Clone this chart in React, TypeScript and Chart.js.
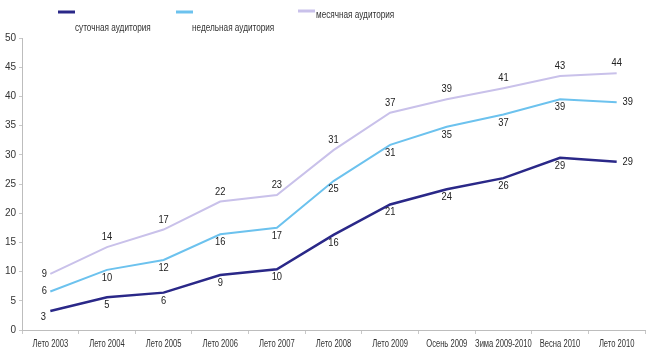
import React, { useEffect, useRef } from "react";
import { Chart, registerables } from "chart.js";

Chart.register(...registerables);

const categories = [
  "Лето 2003", "Лето 2004", "Лето 2005", "Лето 2006", "Лето 2007", "Лето 2008",
  "Лето 2009", "Осень 2009", "Зима 2009-2010", "Весна 2010", "Лето 2010",
];
const dailyValues = [3.25, 5.6, 6.4, 9.4, 10.4, 16.3, 21.5, 24.1, 26.0, 29.5, 28.8];
const weeklyValues = [6.6, 10.3, 12.0, 16.4, 17.5, 25.5, 31.7, 34.8, 36.9, 39.5, 39.0];
const monthlyValues = [9.6, 14.2, 17.2, 22.0, 23.1, 30.8, 37.2, 39.5, 41.4, 43.5, 43.95];
const dailyLabels = [3, 5, 6, 9, 10, 16, 21, 24, 26, 29, 29];
const weeklyLabels = [6, 10, 12, 16, 17, 25, 31, 35, 37, 39, 39];
const monthlyLabels = [9, 14, 17, 22, 23, 31, 37, 39, 41, 43, 44];
const seriesNames = ["суточная аудитория", "недельная аудитория", "месячная аудитория"];
const yTicks = [0, 5, 10, 15, 20, 25, 30, 35, 40, 45, 50];

const FONT = "'Liberation Sans', sans-serif";
const COLORS = ["#2a2888", "#6cc2ee", "#c9c1ea"];

function drawCondensed(ctx: CanvasRenderingContext2D, text: string, x: number, y: number, sx: number) {
  ctx.save();
  ctx.translate(x, y);
  ctx.scale(sx, 1);
  ctx.fillText(text, 0, 0);
  ctx.restore();
}

const dataLabelPlugin = {
  id: "dataLabels",
  afterDatasetsDraw(chart: any) {
    const ctx = chart.ctx;
    ctx.save();
    ctx.font = `11px ${FONT}`;
    ctx.fillStyle = "#222";
    ctx.textAlign = "center";
    ctx.textBaseline = "middle";
    chart.data.datasets.forEach((ds: any, di: number) => {
      const meta = chart.getDatasetMeta(di);
      const n = meta.data.length;
      meta.data.forEach((pt: any, i: number) => {
        const text = String(ds.labels[i]);
        let x = pt.x;
        let y = pt.y;
        if (ds.labelPos === "above") {
          if (i === 0) { x -= 6; }
          else { y -= 10; }
        } else {
          if (i === 0) {
            if (ds.firstPos === "belowLeft") { x -= 7; y += 6; } else { x -= 6; }
          } else if (i === n - 1) { x += 11; }
          else { y += 8; }
        }
        drawCondensed(ctx, text, x, y, 0.85);
      });
    });
    ctx.restore();
  },
};

const xLabelPlugin = {
  id: "xLabels",
  afterDraw(chart: any) {
    const ctx = chart.ctx;
    const xs = chart.scales.x;
    ctx.save();
    ctx.font = `10px ${FONT}`;
    ctx.fillStyle = "#333";
    ctx.textAlign = "center";
    ctx.textBaseline = "middle";
    categories.forEach((c, i) => {
      drawCondensed(ctx, c, xs.getPixelForValue(i), xs.top + 14, 0.76);
    });
    ctx.restore();
  },
};

const legendPlugin = {
  id: "customLegend",
  afterDraw(chart: any) {
    const ctx = chart.ctx;
    ctx.save();
    ctx.font = `10px ${FONT}`;
    ctx.fillStyle = "#333";
    ctx.textBaseline = "middle";
    ctx.textAlign = "left";
    const items = [
      { lx: 58, ly: 12, tx: 75, ty: 28 },
      { lx: 176, ly: 12, tx: 192, ty: 28 },
      { lx: 298, ly: 11, tx: 316, ty: 15 },
    ];
    items.forEach((it, i) => {
      ctx.strokeStyle = COLORS[i];
      ctx.lineWidth = 3;
      ctx.beginPath();
      ctx.moveTo(it.lx, it.ly);
      ctx.lineTo(it.lx + 17, it.ly);
      ctx.stroke();
      drawCondensed(ctx, seriesNames[i], it.tx, it.ty, 0.82);
    });
    ctx.restore();
  },
};

export default function App() {
  const ref = useRef<HTMLCanvasElement | null>(null);
  useEffect(() => {
    document.body.style.margin = "0";
    const chart = new Chart(ref.current as HTMLCanvasElement, {
      type: "line",
      data: {
        labels: categories,
        datasets: [
          { label: seriesNames[0], data: dailyValues, labels: dailyLabels, labelPos: "below", firstPos: "belowLeft", borderColor: COLORS[0], borderWidth: 2.5, pointRadius: 0, tension: 0 } as any,
          { label: seriesNames[1], data: weeklyValues, labels: weeklyLabels, labelPos: "below", firstPos: "left", borderColor: COLORS[1], borderWidth: 2, pointRadius: 0, tension: 0 } as any,
          { label: seriesNames[2], data: monthlyValues, labels: monthlyLabels, labelPos: "above", borderColor: COLORS[2], borderWidth: 2, pointRadius: 0, tension: 0 } as any,
        ],
      },
      options: {
        animation: false,
        responsive: false,
        layout: { padding: { top: 38, right: 5, left: 0, bottom: 0 } },
        plugins: { legend: { display: false }, tooltip: { enabled: false } },
        scales: {
          x: {
            offset: true,
            grid: { display: true, drawOnChartArea: false, offset: true, tickLength: 4, color: "#c8c8c8" },
            border: { color: "#bdbdbd" },
            ticks: { display: false },
            afterFit: (s: any) => { s.height = 32; },
          },
          y: {
            min: 0,
            max: 50,
            afterBuildTicks: (s: any) => { s.ticks = yTicks.map((v) => ({ value: v })); },
            grid: { display: true, drawOnChartArea: false, tickLength: 3, color: "#c8c8c8" },
            border: { color: "#bdbdbd" },
            ticks: { font: { size: 10, family: FONT }, color: "#333", padding: 3 },
            afterFit: (s: any) => { s.width = 22; },
          },
        },
      } as any,
      plugins: [dataLabelPlugin, xLabelPlugin, legendPlugin],
    });
    return () => chart.destroy();
  }, []);
  return (
    <div style={{ position: "absolute", left: 0, top: 0, width: 650, height: 362, background: "#fff" }}>
      <canvas ref={ref} width={650} height={362} />
    </div>
  );
}
